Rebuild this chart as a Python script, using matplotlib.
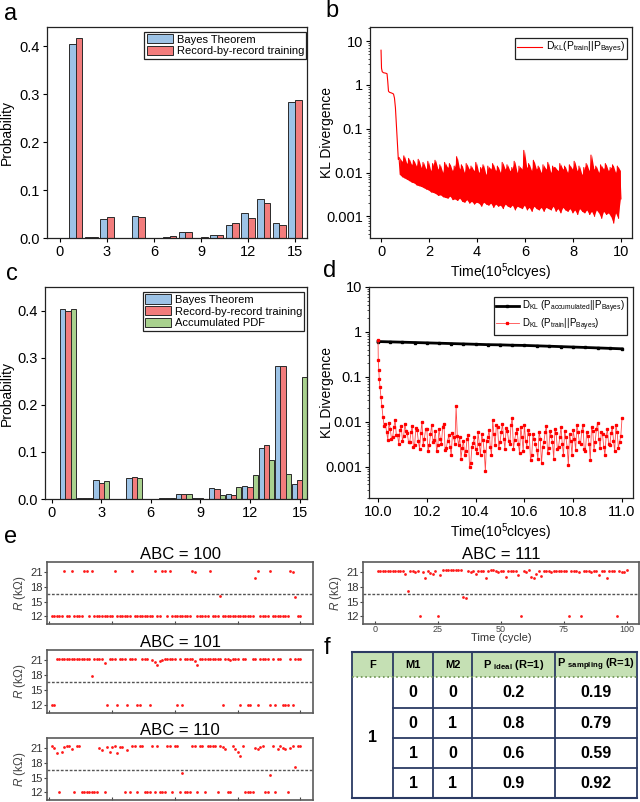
import numpy as np
import matplotlib
matplotlib.use('Agg')
import matplotlib.pyplot as plt
from matplotlib.patches import Rectangle
from matplotlib.ticker import LogLocator, NullFormatter

plt.rcParams['font.family'] = ['Liberation Sans', 'DejaVu Sans']
plt.rcParams['mathtext.fontset'] = 'custom'
plt.rcParams['mathtext.rm'] = 'Liberation Sans'
plt.rcParams['mathtext.it'] = 'Liberation Sans:italic'
plt.rcParams['mathtext.bf'] = 'Liberation Sans:bold'

# ---------------- data ----------------
states = np.arange(16)
# panel a
bayes_a = [0, 0.405, 0.003, 0.040, 0, 0.045, 0, 0.003, 0.012, 0.001, 0.007, 0.028, 0.053, 0.081, 0.031, 0.283]
train_a = [0, 0.418, 0.003, 0.043, 0, 0.043, 0, 0.005, 0.012, 0.003, 0.007, 0.032, 0.041, 0.074, 0.027, 0.288]
# panel c
bayes_c = [0, 0.404, 0.002, 0.041, 0, 0.044, 0, 0.002, 0.011, 0.002, 0.024, 0.010, 0.028, 0.108, 0.283, 0.031]
train_c = [0, 0.398, 0.002, 0.034, 0, 0.046, 0, 0.002, 0.010, 0.002, 0.021, 0.009, 0.026, 0.115, 0.283, 0.040]
accum_c = [0, 0.404, 0.002, 0.039, 0, 0.044, 0, 0.002, 0.011, 0.001, 0.008, 0.025, 0.051, 0.083, 0.054, 0.260]

# panel b : KL divergence during training (time in 1e5 cycles)
b_t_start = [0.0, 0.02, 0.05, 0.10, 0.20, 0.25, 0.28, 0.31, 0.35, 0.45, 0.52, 0.56, 0.60, 0.63, 0.66, 0.69, 0.72]
b_kl_start = [6.2, 2.4, 2.0, 1.9, 1.85, 1.8, 1.2, 0.72, 0.68, 0.65, 0.62, 0.5, 0.3, 0.15, 0.07, 0.035, 0.02]
b_t_noise = np.arange(93) * 0.1 + 0.75
b_kl_high = [0.022, 0.018, 0.024, 0.016, 0.021, 0.015, 0.019, 0.014, 0.020, 0.013,
             0.017, 0.012, 0.018, 0.011, 0.016, 0.019, 0.012, 0.015, 0.010, 0.017,
             0.013, 0.016, 0.011, 0.014, 0.023, 0.012, 0.015, 0.010, 0.016, 0.012,
             0.014, 0.011, 0.017, 0.010, 0.013, 0.015, 0.009, 0.014, 0.012, 0.016,
             0.011, 0.014, 0.010, 0.017, 0.012, 0.015, 0.011, 0.013, 0.018, 0.010,
             0.014, 0.012, 0.032, 0.013, 0.016, 0.011, 0.019, 0.012, 0.014, 0.010,
             0.015, 0.012, 0.017, 0.010, 0.014, 0.013, 0.011, 0.016, 0.012, 0.014,
             0.010, 0.015, 0.012, 0.018, 0.011, 0.014, 0.009, 0.013, 0.016, 0.011,
             0.025, 0.012, 0.014, 0.010, 0.015, 0.012, 0.016, 0.011, 0.013, 0.015,
             0.010, 0.014, 0.011]
b_kl_low = [0.009, 0.008, 0.0075, 0.007, 0.0065, 0.006, 0.0058, 0.0052, 0.005, 0.0048,
            0.0045, 0.0042, 0.004, 0.0036, 0.0035, 0.0033, 0.003, 0.0031, 0.0028, 0.0027,
            0.0026, 0.0029, 0.0024, 0.0025, 0.0023, 0.0026, 0.0022, 0.0021, 0.0024, 0.002,
            0.0022, 0.0019, 0.0021, 0.002, 0.0017, 0.0021, 0.0019, 0.0018, 0.002, 0.0016,
            0.0019, 0.0017, 0.0018, 0.0015, 0.0019, 0.0017, 0.0016, 0.0018, 0.0014, 0.0017,
            0.0016, 0.0015, 0.0018, 0.0014, 0.0016, 0.0013, 0.0017, 0.0015, 0.0014, 0.0016,
            0.0013, 0.0016, 0.0015, 0.0014, 0.0017, 0.0013, 0.0015, 0.0012, 0.0016, 0.0014,
            0.0013, 0.0015, 0.0012, 0.0014, 0.0011, 0.0015, 0.0013, 0.0012, 0.0014, 0.0011,
            0.0013, 0.0010, 0.0014, 0.0012, 0.0009, 0.0013, 0.0011, 0.0012, 0.0010, 0.0007,
            0.0012, 0.0009, 0.0025]

# panel d
d_acc_t = np.arange(21) * 0.05 + 10.0
d_acc_kl = [0.61, 0.60, 0.59, 0.58, 0.57, 0.56, 0.55, 0.54, 0.53, 0.52, 0.515,
            0.505, 0.50, 0.49, 0.48, 0.47, 0.46, 0.45, 0.44, 0.43, 0.42]
d_t_start = [10.0, 10.001, 10.003, 10.005, 10.008, 10.012, 10.016, 10.02, 10.025]
d_kl_start = [0.66, 0.24, 0.14, 0.09, 0.06, 0.035, 0.022, 0.013, 0.008]
d_t_noise_a = np.arange(98) * 0.01 + 10.03
d_kl_noise_a = [0.009, 0.004, 0.007, 0.0045, 0.011, 0.005, 0.0065, 0.0038, 0.009, 0.0055,
                0.0035, 0.008, 0.003, 0.0065, 0.0025, 0.010, 0.0042, 0.007, 0.003, 0.0085,
                0.004, 0.0022, 0.0068, 0.0032, 0.009, 0.0026, 0.005, 0.0018, 0.0045, 0.022,
                0.003, 0.0015, 0.0038, 0.0022, 0.005, 0.0012, 0.0034, 0.0025, 0.0058, 0.0018,
                0.004, 0.0008, 0.0045, 0.0028, 0.011, 0.003, 0.0075, 0.0035, 0.009, 0.0025,
                0.0062, 0.0032, 0.012, 0.004, 0.0068, 0.002, 0.0045, 0.0085, 0.0028, 0.0052,
                0.0018, 0.0042, 0.0024, 0.006, 0.0012, 0.0036, 0.0082, 0.0026, 0.0048, 0.0015,
                0.0055, 0.0028, 0.0075, 0.0018, 0.0045, 0.0011, 0.0038, 0.0065, 0.0024, 0.0058,
                0.0032, 0.0085, 0.0022, 0.0048, 0.0014, 0.0062, 0.0035, 0.0095, 0.0026, 0.0052,
                0.0018, 0.0068, 0.003, 0.0078, 0.0022, 0.0058, 0.0035, 0.012]
d_t_noise_b = np.arange(97) * 0.01 + 10.035
d_kl_noise_b = [0.006, 0.0095, 0.0042, 0.0075, 0.005, 0.0032, 0.008, 0.0048, 0.0062, 0.0035,
                0.0058, 0.0028, 0.0072, 0.0038, 0.0055, 0.003, 0.0068, 0.0022, 0.0052, 0.0036,
                0.0062, 0.003, 0.0042, 0.0078, 0.0024, 0.0038, 0.0028, 0.0055, 0.0032, 0.0048,
                0.0045, 0.0026, 0.0018, 0.0042, 0.001, 0.0028, 0.0045, 0.002, 0.0032, 0.0052,
                0.0022, 0.0038, 0.0065, 0.0018, 0.0052, 0.0085, 0.0026, 0.0058, 0.0042, 0.0072,
                0.0038, 0.0085, 0.0025, 0.0055, 0.0032, 0.0078, 0.0022, 0.0038, 0.0065, 0.0014,
                0.0052, 0.0032, 0.0015, 0.0042, 0.0028, 0.0058, 0.002, 0.0062, 0.0035, 0.0068,
                0.0025, 0.0045, 0.0032, 0.0062, 0.0028, 0.0052, 0.0018, 0.0042, 0.0085, 0.0035,
                0.0062, 0.0025, 0.0058, 0.0032, 0.0075, 0.0024, 0.0068, 0.0042, 0.0058, 0.0028,
                0.0048, 0.0032, 0.0055, 0.0038, 0.0085, 0.0026, 0.0048]

# panel e : resistance (kOhm) per cycle 1..100
cycles = np.arange(1, 101)
r_abc100 = [12, 12, 12, 12, 12, 21.3, 12, 12, 21.3, 12,
            12, 12, 12, 21.3, 21.3, 12, 21.3, 12, 12, 12,
            12, 12, 12, 12, 12, 21.3, 12, 12, 12, 12,
            12, 12, 21.3, 12, 12, 12, 12, 12, 12, 12,
            12, 21.3, 12, 12, 21.3, 21.2, 12, 21.3, 12, 12,
            12, 12, 12, 12, 12, 12, 21.3, 21.1, 12, 12,
            12, 12, 12, 21.3, 12, 12, 12, 16.1, 12, 12,
            12, 12, 12, 12, 12, 12, 12, 12, 12, 12,
            12, 19.9, 21.3, 12, 12, 12, 12, 21.3, 12, 12,
            12, 12, 12, 12, 12, 21.3, 21.1, 16.0, 12, 12]
r_abc101 = [12, 12, 21.35, 21.35, 21.35, 21.35, 21.35, 21.35, 21.35, 21.35,
            21.35, 21.35, 21.35, 21.35, 21.35, 21.35, 17.9, 21.35, 21.3, 21.35,
            21.35, 20.5, 12, 21.35, 21.35, 21.35, 12, 21.35, 21.35, 21.35,
            12, 21.35, 21.35, 21.35, 12, 12, 21.35, 21.35, 21.35, 12,
            21.1, 20.7, 20.0, 20.8, 21.0, 21.35, 21.35, 21.35, 21.35, 21.35,
            12, 21.35, 12, 21.35, 21.35, 21.35, 21.35, 20.8, 20.0, 21.35,
            21.35, 21.35, 21.35, 21.35, 21.35, 21.35, 21.35, 21.35, 12, 21.35,
            21.35, 21.1, 21.35, 21.35, 21.35, 12, 21.35, 21.35, 12, 12,
            21.35, 21.35, 12, 21.35, 21.35, 21.35, 21.35, 12, 21.35, 12,
            21.35, 21.35, 12, 12, 12, 21.35, 12, 21.35, 21.35, 21.35]
r_abc110 = [21.5, 21.1, 20.1, 12, 20.2, 21.3, 21.4, 21.4, 20.9, 12,
            21.4, 21.4, 12, 12, 12, 12, 12, 12, 12, 21.0,
            20.6, 12, 21.3, 20.2, 21.3, 21.4, 20.1, 21.3, 21.3, 12,
            20.6, 12, 21.4, 21.4, 12, 21.4, 21.4, 12, 12, 12,
            21.4, 12, 21.4, 12, 12, 12, 21.4, 21.4, 12, 21.4,
            21.4, 12, 16.0, 12, 12, 12, 21.4, 21.4, 12, 21.4,
            21.4, 12, 21.4, 21.4, 21.4, 21.4, 12, 21.4, 21.3, 20.8,
            12, 12, 21.4, 20.8, 20.2, 19.4, 21.4, 12, 12, 12,
            12, 21.1, 20.8, 21.2, 21.4, 12, 12, 15.5, 21.4, 12,
            20.9, 21.4, 21.1, 20.8, 12, 21.1, 21.4, 17.1, 21.4, 21.4]
r_abc111 = [21.3, 21.3, 21.2, 21.3, 21.3, 21.3, 21.3, 21.3, 21.3, 21.2,
            21.3, 20.7, 17.1, 21.3, 21.2, 21.1, 21.2, 12, 21.0, 19.8,
            21.3, 20.8, 20.7, 21.3, 12, 20.5, 21.4, 21.4, 21.4, 21.4,
            21.4, 21.4, 21.4, 21.4, 16.0, 15.8, 21.2, 21.1, 21.3, 20.6,
            21.2, 21.3, 21.3, 19.9, 21.3, 21.4, 21.4, 21.3, 21.1, 21.3,
            21.2, 20.0, 21.3, 21.2, 21.3, 21.3, 20.5, 12, 21.3, 21.1,
            21.4, 20.0, 19.9, 20.7, 21.3, 20.3, 21.3, 21.2, 21.3, 21.1,
            21.2, 21.3, 21.3, 21.2, 21.3, 21.3, 12, 21.3, 21.3, 21.2,
            21.1, 12, 21.2, 21.3, 21.3, 21.1, 21.3, 21.3, 20.5, 21.2,
            21.3, 19.9, 21.3, 21.2, 21.3, 12, 21.3, 21.1, 21.0, 21.4]
r_threshold = 16.6

# panel f
tab_header = ['F', 'M1', 'M2', r'P $_{\mathbf{ideal}}$ (R=1)', r'P $_{\mathbf{sampling}}$ (R=1)']
tab_f = '1'
tab_m1 = ['0', '0', '1', '1']
tab_m2 = ['0', '1', '0', '1']
tab_p_ideal = ['0.2', '0.8', '0.6', '0.9']
tab_p_sampling = ['0.19', '0.79', '0.59', '0.92']

# ---------------- figure ----------------
W, H = 640, 802
fig = plt.figure(figsize=(6.4, 8.02), dpi=100)

BLUE = '#9dc3e6'
RED = '#f27c7c'
GREEN = '#a9d18e'
EDGE = '#2a2a2a'


def box(l, t, r, b):
    return [l / W, 1 - b / H, (r - l) / W, (b - t) / H]


def frame(ax, label_right_px, ax_left_px, ax_width_px):
    for s in ax.spines.values():
        s.set_linewidth(0.9)
        s.set_color('#222222')
    ax.tick_params(direction='out', length=3, width=0.8, labelsize=10.5, pad=2)
    ax.yaxis.set_label_coords((label_right_px - ax_left_px) / ax_width_px, 0.5)


def legend(ax, anchor, fs=8):
    lg = ax.legend(loc='upper right', bbox_to_anchor=anchor, borderaxespad=0,
                   fontsize=fs, fancybox=False, framealpha=1, edgecolor='#222222',
                   handlelength=2.4, handleheight=0.9, handletextpad=0.3,
                   labelspacing=0.12, borderpad=0.2)
    lg.get_frame().set_linewidth(0.9)
    return lg


# panel a
ax = fig.add_axes(box(47, 27, 307, 238))
ax.bar(states - 0.21, bayes_a, 0.42, color=BLUE, edgecolor=EDGE, lw=0.7, label='Bayes Theorem')
ax.bar(states + 0.21, train_a, 0.42, color=RED, edgecolor=EDGE, lw=0.7, label='Record-by-record training')
ax.set_xlim(-0.83, 15.77)
ax.set_ylim(0, 0.44)
ax.set_xticks(range(0, 16, 3))
ax.set_yticks([0, 0.1, 0.2, 0.3, 0.4])
ax.set_yticklabels(['0.0', '0.1', '0.2', '0.3', '0.4'])
ax.set_ylabel('Probability', fontsize=10)
frame(ax, 14, 47, 260)
legend(ax, (0.997, 0.977))

# panel c
ax = fig.add_axes(box(45, 287, 307, 499))
ax.bar(states - 0.32, bayes_c, 0.32, color=BLUE, edgecolor=EDGE, lw=0.7, label='Bayes Theorem')
ax.bar(states, train_c, 0.32, color=RED, edgecolor=EDGE, lw=0.7, label='Record-by-record training')
ax.bar(states + 0.32, accum_c, 0.32, color=GREEN, edgecolor=EDGE, lw=0.7, label='Accumulated PDF')
ax.set_xlim(-0.4, 15.45)
ax.set_ylim(0, 0.45)
ax.set_xticks(range(0, 16, 3))
ax.set_yticks([0, 0.1, 0.2, 0.3, 0.4])
ax.set_yticklabels(['0.0', '0.1', '0.2', '0.3', '0.4'])
ax.set_ylabel('Probability', fontsize=10)
frame(ax, 14, 45, 262)
legend(ax, (0.99, 0.976))

kl_ticks = [0.001, 0.01, 0.1, 1, 10]
kl_labels = ['0.001', '0.01', '0.1', '1', '10']
lab_train = r'D$_{\mathrm{KL}}$(P$_{\mathrm{train}}$||P$_{\mathrm{Bayes}}$)'

# panel b
ax = fig.add_axes(box(370, 27, 632, 238))
bt = np.empty(2 * len(b_t_noise))
bt[0::2] = b_t_noise
bt[1::2] = b_t_noise + 0.05
bv = np.empty(2 * len(b_t_noise))
bv[0::2] = b_kl_high
bv[1::2] = b_kl_low
ax.fill_between(b_t_noise + 0.025, b_kl_low, b_kl_high, color='#ff0000', lw=0)
ax.plot(np.concatenate([b_t_start, bt]), np.concatenate([b_kl_start, bv]),
        color='#ff0000', lw=0.8, label=lab_train)
ax.set_yscale('log')
ax.set_ylim(3.2e-4, 21)
ax.set_xlim(-0.46, 10.46)
ax.set_yticks(kl_ticks)
ax.set_yticklabels(kl_labels)
ax.yaxis.set_minor_locator(LogLocator(base=10, subs=np.arange(2, 10)))
ax.yaxis.set_minor_formatter(NullFormatter())
ax.set_xticks(range(0, 11, 2))
ax.set_xlabel('Time(10$^5$clcyes)', fontsize=10, labelpad=2)
ax.set_ylabel('KL Divergence', fontsize=10)
frame(ax, 334, 370, 262)
ax.tick_params(which='minor', length=1.5, width=0.5)
legend(ax, (0.981, 0.948), fs=7.5)

# panel d
ax = fig.add_axes(box(369, 287, 633, 498))
d_t_noise = np.concatenate([d_t_noise_a, d_t_noise_b])
d_kl_noise = np.concatenate([d_kl_noise_a, d_kl_noise_b])
order = np.argsort(d_t_noise)
d_t_all = np.concatenate([d_t_start, d_t_noise[order]])
d_kl_all = np.concatenate([d_kl_start, d_kl_noise[order]])
ax.plot(d_acc_t, d_acc_kl, color='black', lw=2.0, marker='s', ms=1.5,
        label=r'D$_{\mathrm{KL}}$ (P$_{\mathrm{accumulated}}$||P$_{\mathrm{Bayes}}$)')
ax.plot(d_t_all, d_kl_all, color='#ff4a4a', lw=0.6, marker='s', ms=1.4,
        mfc='#ff0000', mec='#ff0000',
        label=r'D$_{\mathrm{KL}}$ (P$_{\mathrm{train}}$||P$_{\mathrm{Bayes}}$)')
ax.set_yscale('log')
ax.set_ylim(2e-4, 10)
ax.set_xlim(9.963, 11.045)
ax.set_yticks(kl_ticks)
ax.set_yticklabels(kl_labels)
ax.yaxis.set_minor_locator(LogLocator(base=10, subs=np.arange(2, 10)))
ax.yaxis.set_minor_formatter(NullFormatter())
ax.set_xticks([10.0, 10.2, 10.4, 10.6, 10.8, 11.0])
ax.set_xticklabels(['10.0', '10.2', '10.4', '10.6', '10.8', '11.0'])
ax.set_xlabel('Time(10$^5$clcyes)', fontsize=10, labelpad=2)
ax.set_ylabel('KL Divergence', fontsize=10)
frame(ax, 334, 369, 264)
ax.tick_params(which='minor', length=1.5, width=0.5)
legend(ax, (0.977, 0.953), fs=7)

# panel e
e_panels = [('ABC = 100', r_abc100, (47, 562, 313, 624), False),
            ('ABC = 101', r_abc101, (47, 650, 313, 713), False),
            ('ABC = 110', r_abc110, (47, 738, 313, 800), False),
            ('ABC = 111', r_abc111, (363, 562, 639, 624), True)]
for title, vals, pos, show_x in e_panels:
    ax = fig.add_axes(box(*pos))
    ax.plot(cycles, vals, ls='none', marker='o', ms=2.0, color='#ff1a1a', mec='none')
    ax.axhline(r_threshold, color='#555555', lw=1.0, ls=(0, (2.0, 1.2)))
    ax.set_ylim(10.4, 23.1)
    ax.set_yticks([12, 15, 18, 21])
    ax.set_xticks([0, 25, 50, 75, 100])
    if show_x:
        ax.set_xlim(-4.8, 104.9)
        ax.tick_params(axis='x', labelsize=6.5, labelcolor='#444444', pad=1)
        ax.set_xlabel('Time (cycle)', fontsize=8, labelpad=-1, color='#333333')
    else:
        ax.set_xlim(-0.9, 105)
        ax.set_xticklabels([])
    for s in ax.spines.values():
        s.set_linewidth(1.2)
        s.set_color('#5a5a5a')
    ax.tick_params(axis='x', direction='in', length=2.5, width=0.8, color='#444444')
    ax.tick_params(axis='y', direction='out', length=2, width=0.8, labelsize=8,
                   labelcolor='#333333', color='#444444', pad=1)
    ax.set_ylabel(r'$\it{R}$ (k$\Omega$)', fontsize=8.5, color='#444444', labelpad=2)
    ax.set_title(title, fontsize=12, pad=1.5)

# panel f : table
tx = fig.add_axes(box(352, 652, 637, 798))
tx.set_xlim(0, 1)
tx.set_ylim(1, 0)
tx.axis('off')
col_edges = np.array([0, 41, 81, 120, 203, 285]) / 285
row_edges = np.array([0, 25, 56, 86, 116, 146]) / 146
NAVY = '#2b3a63'
tx.add_patch(Rectangle((0, 0), 1, row_edges[1], facecolor='#c5e0b4', edgecolor='none'))
for x in col_edges:
    tx.plot([x, x], [0, 1], color=NAVY, lw=1.3, clip_on=False)
tx.plot([0, 1], [0, 0], color=NAVY, lw=1.5, clip_on=False)
tx.plot([0, 1], [1, 1], color=NAVY, lw=1.5, clip_on=False)
tx.plot([0, 1], [row_edges[1], row_edges[1]], color='#6a8f4e', lw=1.2, ls=':', clip_on=False)
for y in row_edges[2:-1]:
    tx.plot([col_edges[1], 1], [y, y], color=NAVY, lw=1.3, clip_on=False)

col_mid = (col_edges[:-1] + col_edges[1:]) / 2
row_mid = (row_edges[:-1] + row_edges[1:]) / 2
for c, txt in enumerate(tab_header):
    tx.text(col_mid[c], row_mid[0], txt, ha='center', va='center', fontsize=8, fontweight='bold')
tx.text(col_mid[0], (row_edges[1] + 1) / 2, tab_f, ha='center', va='center', fontsize=11.5, fontweight='bold')
for r in range(4):
    for c, col in enumerate([tab_m1, tab_m2, tab_p_ideal, tab_p_sampling]):
        tx.text(col_mid[c + 1], row_mid[r + 1], col[r], ha='center', va='center',
                fontsize=11.5, fontweight='bold')

# panel letters
for letter, (px, py) in {'a': (11, 14), 'b': (332, 11), 'c': (12, 274), 'd': (330, 271),
                         'e': (11, 537), 'f': (327, 648)}.items():
    fig.text(px / W, 1 - py / H, letter, fontsize=17, ha='center', va='center')

fig.savefig('out.png', dpi=100)
